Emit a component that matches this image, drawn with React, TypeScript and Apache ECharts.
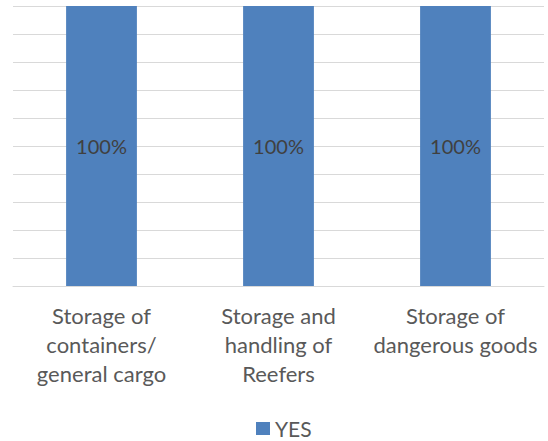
import React, { useEffect, useRef } from "react";
import * as echarts from "echarts";

const categories = [
  "Storage of\ncontainers/\ngeneral cargo",
  "Storage and\nhandling of\nReefers",
  "Storage of\ndangerous goods",
];
const seriesName = "YES";
const yesShare = [1, 1, 1];

export default function App() {
  const ref = useRef<HTMLDivElement>(null);

  useEffect(() => {
    if (!ref.current) return;
    const chart = echarts.init(ref.current, undefined, { renderer: "svg" });
    const font = "Lato, 'Open Sans', sans-serif";
    chart.setOption({
      animation: false,
      textStyle: { fontFamily: font },
      grid: { left: 13, right: 4, top: 6, bottom: 155, containLabel: false },
      legend: {
        data: [seriesName],
        top: 413,
        left: 251,
        padding: 5,
        itemWidth: 14,
        itemHeight: 13,
        itemGap: 6,
        icon: "rect",
        textStyle: { fontSize: 21, color: "#595959", fontFamily: font, padding: [0, 0, 0, 0] },
      },
      xAxis: {
        type: "category",
        data: categories,
        axisLine: { show: true, lineStyle: { color: "#d9d9d9", width: 1 } },
        axisTick: { show: false },
        axisLabel: {
          interval: 0,
          margin: 15,
          fontSize: 22,
          lineHeight: 29,
          color: "#595959",
          fontFamily: font,
          align: "center",
        },
      },
      yAxis: {
        type: "value",
        min: 0,
        max: 1,
        interval: 0.1,
        axisLabel: { show: false },
        axisLine: { show: false },
        axisTick: { show: false },
        splitLine: { lineStyle: { color: "#d9d9d9", width: 1 } },
      },
      series: [
        {
          name: seriesName,
          type: "bar",
          data: yesShare,
          barWidth: "40%",
          itemStyle: { color: "#4F81BD" },
          label: {
            show: true,
            position: "inside",
            formatter: (p: any) => `${Math.round(p.value * 100)}%`,
            fontSize: 20,
            color: "#404040",
            fontFamily: font,
          },
        },
      ],
    });
    return () => chart.dispose();
  }, []);

  return (
    <div
      ref={ref}
      style={{ position: "fixed", left: 0, top: 0, width: 548, height: 441, background: "#fff" }}
    />
  );
}
